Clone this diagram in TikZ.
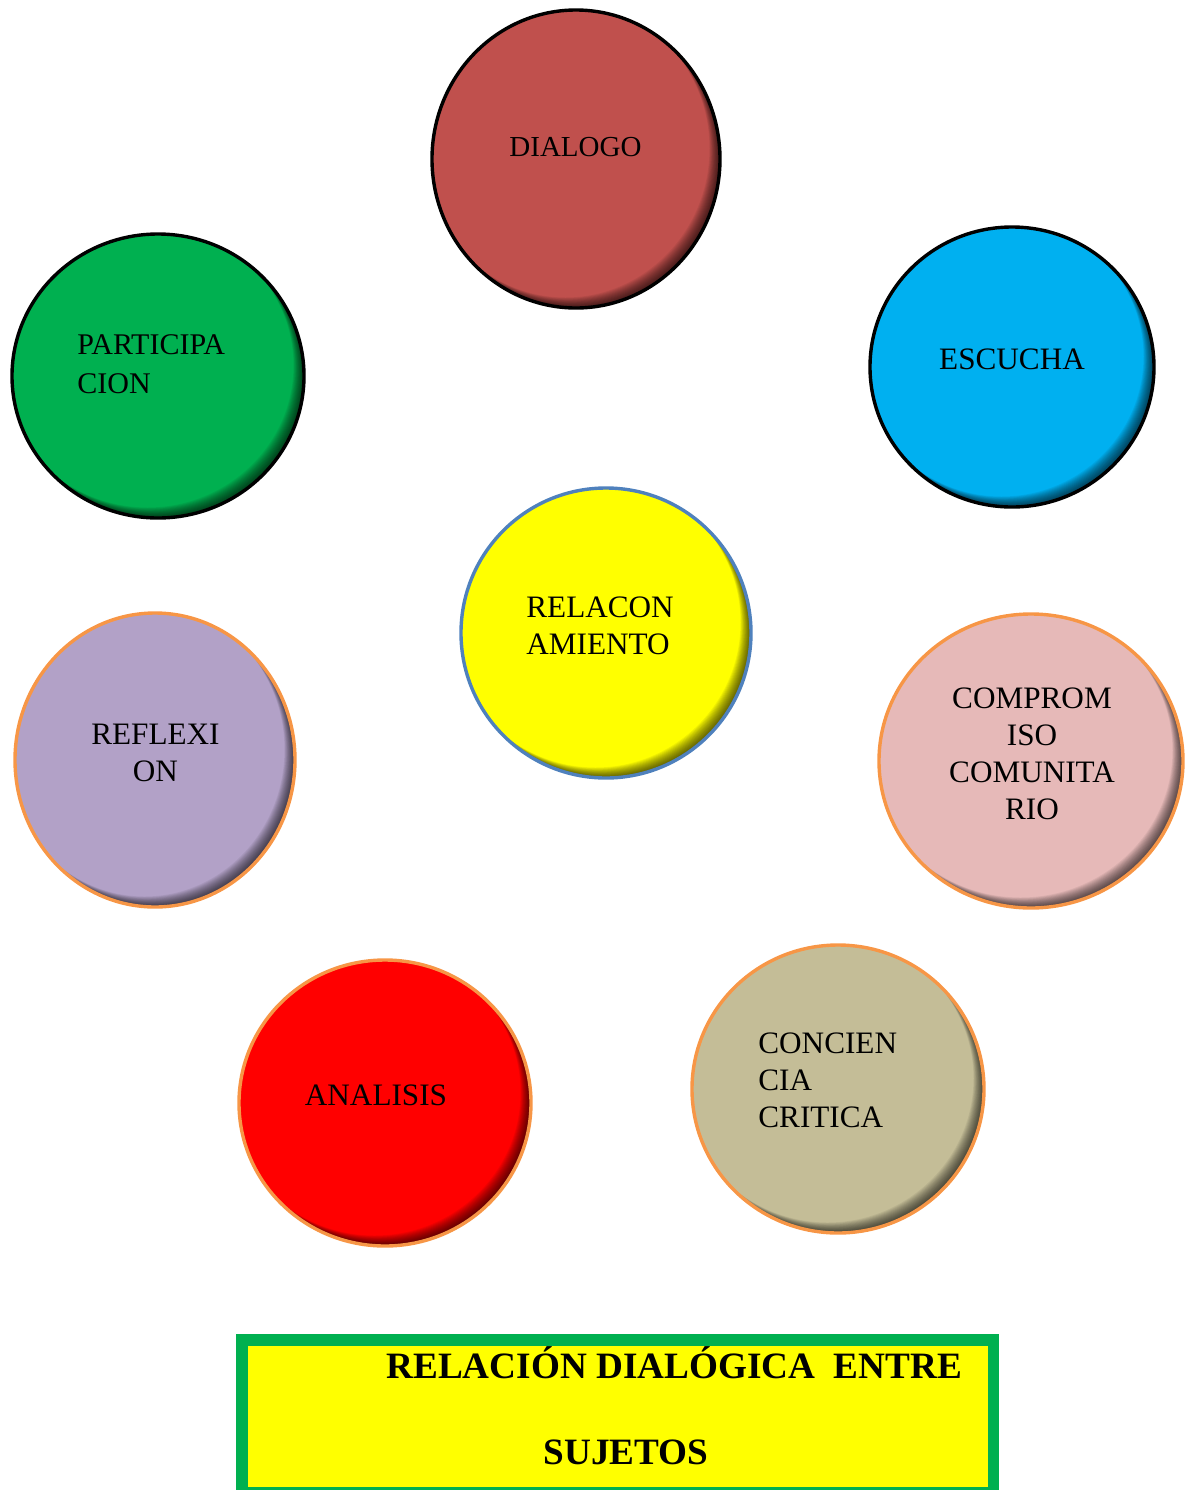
\documentclass[tikz,border=0pt]{standalone}
\usepackage{fontspec}
\setmainfont{Liberation Serif}

\definecolor{dialogo}{HTML}{C0504D}
\definecolor{escucha}{HTML}{00B0F0}
\definecolor{participa}{HTML}{00B050}
\definecolor{amarillo}{HTML}{FFFF00}
\definecolor{reflexion}{HTML}{B2A1C7}
\definecolor{compromiso}{HTML}{E6B9B8}
\definecolor{analisis}{HTML}{FF0000}
\definecolor{conciencia}{HTML}{C4BD97}
\definecolor{bordeazul}{HTML}{4F81BD}
\definecolor{naranja}{HTML}{F79646}

\tikzset{
  orbe/.style={line width=1.7pt},
  etiqueta/.style={inner sep=0pt, font=\fontsize{15.6}{18.5}\selectfont},
  titulo/.style={inner sep=0pt, font=\fontsize{18.6}{22}\selectfont\bfseries},
}

\begin{document}
\begin{tikzpicture}[x=0.5pt,y=-0.5pt]
\useasboundingbox (0,0) rectangle (1185,1490);

% circulos con sombra interior
\foreach \cx/\cy/\rx/\ry/\relleno/\borde in {
   576/159/144/149/dialogo/black,
   1012/367/142/140/escucha/black,
   158/376/146/142/participa/black,
   606/633/145/145/amarillo/bordeazul,
   155/760/140/147/reflexion/naranja,
   1031/761/152/147/compromiso/naranja,
   385/1103/146/143/analisis/naranja,
   838/1089/146/144/conciencia/naranja}{
   \fill[\relleno] (\cx,\cy) ellipse [x radius=\rx, y radius=\ry];
   \begin{scope}
     \clip (\cx,\cy) ellipse [x radius=\rx, y radius=\ry];
     \foreach \s in {0.7,1.4,...,10.5}{
        \fill[black,opacity=0.06,even odd rule] (\cx,\cy) ellipse [x radius=\rx+40, y radius=\ry+40]
           (\cx-\s,\cy-\s) ellipse [x radius=\rx, y radius=\ry];
     }
   \end{scope}
   \draw[orbe,\borde] (\cx,\cy) ellipse [x radius=\rx, y radius=\ry];
}

% textos de los circulos
\node[etiqueta, font=\fontsize{14.5}{18.5}\selectfont, anchor=base] (dialogo) at (575.5,156) {DIALOGO};
\node[etiqueta, anchor=base] (escucha) at (1012,369) {ESCUCHA};
\node[etiqueta, font=\fontsize{15}{19.5}\selectfont, anchor=north west, align=left] (participacion) at (77,334) {PARTICIPA\\CION};
\node[etiqueta, anchor=north west, align=left] (relacionamiento) at (526,596) {RELACON\\AMIENTO};
\node[etiqueta, anchor=north, align=center] (reflexion) at (155.5,723.5) {REFLEXI\\ON};
\node[etiqueta, anchor=north, align=center] (compromiso) at (1032,687.5) {COMPROM\\ISO\\COMUNITA\\RIO};
\node[etiqueta, anchor=base] (analisis) at (376,1105) {ANALISIS};
\node[etiqueta, anchor=north west, align=left] (conciencia) at (758,1032.5) {CONCIEN\\CIA\\CRITICA};

% recuadro del titulo
\fill[participa] (236,1334) rectangle (999,1490);
\fill[amarillo] (248,1346) rectangle (988,1487);
\node[titulo, anchor=base west] (titulo) at (386,1378) {RELACIÓN DIALÓGICA \ ENTRE};
\node[titulo, anchor=base] (sujetos) at (626,1464) {SUJETOS};

\end{tikzpicture}
\end{document}
